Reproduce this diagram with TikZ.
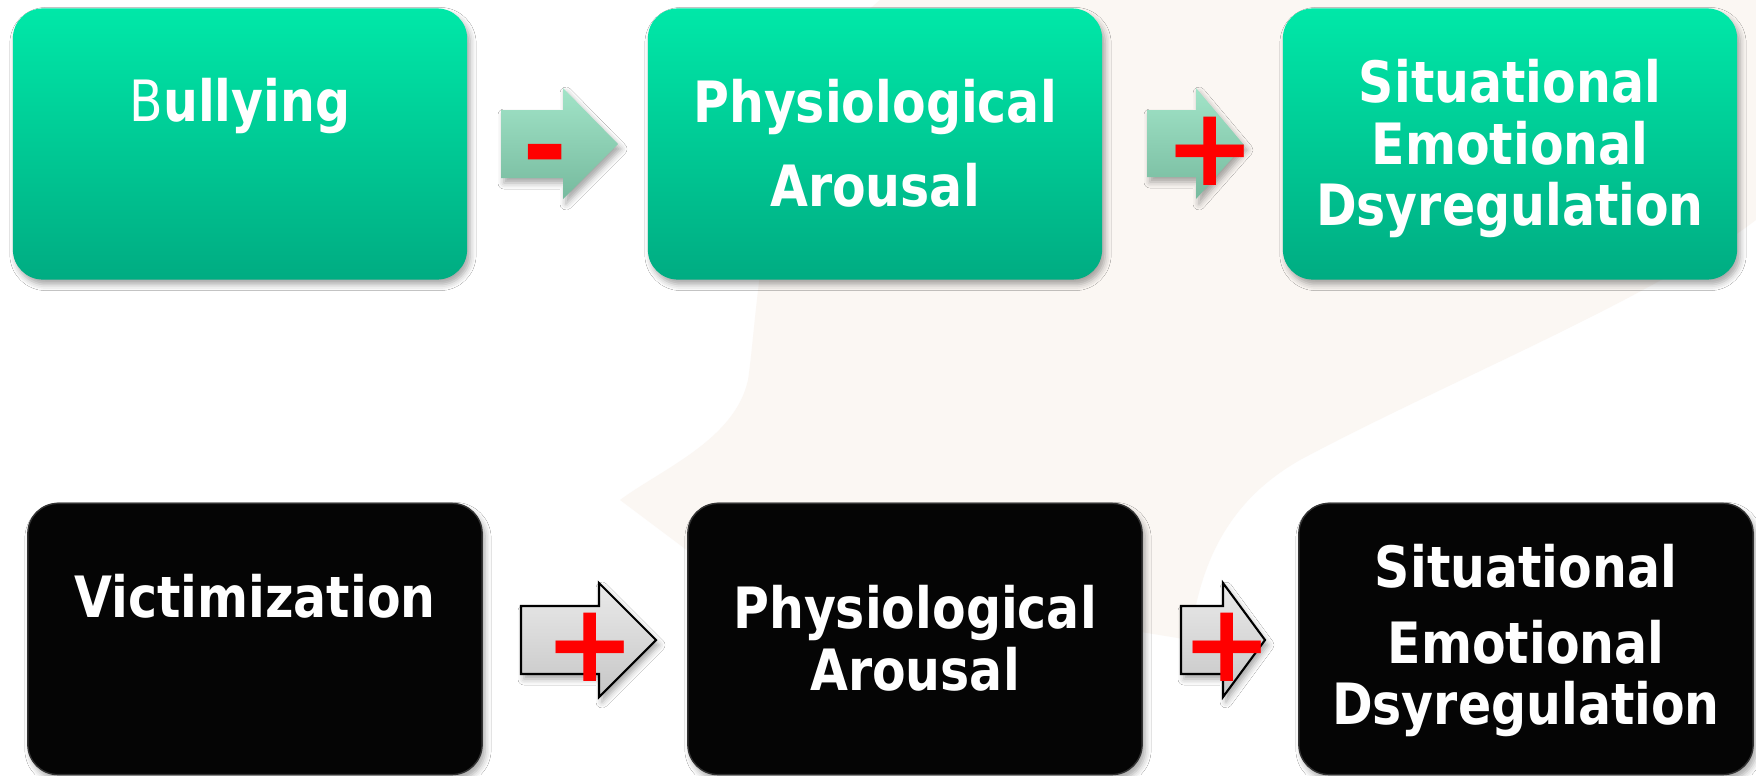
\documentclass[tikz,border=0pt]{standalone}
\usepackage{fontspec}
\usetikzlibrary{shadows.blur}
\newfontfamily\boxfont[FakeStretch=0.86]{DejaVu Sans}
\newfontfamily\signfont{DejaVu Sans}
\definecolor{greentop}{RGB}{0,232,168}
\definecolor{greenbot}{RGB}{0,172,130}
\definecolor{pale}{RGB}{251,247,243}
\definecolor{arrowtop}{RGB}{162,228,200}
\definecolor{arrowbot}{RGB}{118,186,158}
\definecolor{greytop}{RGB}{234,234,234}
\definecolor{greybot}{RGB}{198,198,198}
\definecolor{nearblack}{RGB}{5,5,5}
\definecolor{signred}{RGB}{255,0,0}
\tikzset{
  softshadow/.style = {blur shadow={shadow xshift=0.03cm, shadow yshift=-0.05cm, shadow blur radius=0.06cm, shadow opacity=35}},
  flowbox/.style = {rounded corners=0.3cm, minimum width=4.54cm, minimum height=2.71cm, inner sep=0pt, softshadow},
  greenbox/.style = {flowbox, top color=greentop, bottom color=greenbot},
  blackbox/.style = {flowbox, fill=nearblack, draw=black!80, line width=0.4pt},
  boxtext/.style = {text=white, font=\boxfont\bfseries\fontsize{16.2}{17.4}\selectfont, align=center, inner sep=0pt, anchor=north},
  greenarrow/.style = {top color=arrowtop, bottom color=arrowbot, softshadow},
  greyarrow/.style = {top color=greytop, bottom color=greybot, draw=black, line width=0.6pt, softshadow},
  sign/.style = {text=signred, font=\signfont\bfseries\fontsize{31}{31}\selectfont, inner sep=0pt}
}
\begin{document}
\begin{tikzpicture}[x=0.01cm, y=-0.01cm]
	\useasboundingbox (0,0) rectangle (1756,775);
	\fill[white] (0,0) rectangle (1756,775);
	% faint backdrop
	\fill[pale] (880,0) .. controls (760,100) and (760,300) .. (748,380) .. controls (735,440) and (660,470) .. (620,500) -- (700,560) -- (1190,640) .. controls (1200,560) and (1230,500) .. (1300,460) .. controls (1450,380) and (1650,300) .. (1756,220) -- (1756,0) -- cycle;
	% top row
	\node[greenbox] (bully) at (240,144) {};
	\node[greenbox] (arousal1) at (875,144) {};
	\node[greenbox] (dysreg1) at (1510,144) {};
	\node[boxtext] (bully-t) at (240,78) {{\mdseries B}ullying};
	\node[boxtext] (arousal1-t) at (875,79) {Physiological\\[0.22cm]Arousal};
	\node[boxtext] (dysreg1-t) at (1510,59) {Situational\\Emotional\\Dsyregulation};
	% bottom row
	\node[blackbox] (victim) at (255,639) {};
	\node[blackbox] (arousal2) at (915,639) {};
	\node[blackbox] (dysreg2) at (1526,639) {};
	\node[boxtext] (victim-t) at (255,574) {Victimization};
	\node[boxtext] (arousal2-t) at (915,585) {Physiological\\Arousal};
	\node[boxtext] (dysreg2-t) at (1526,544) {Situational\\[0.14cm]Emotional\\Dsyregulation};
	% block arrows
	\draw[greenarrow, draw=none] (501,110) -- ++(62,0) -- ++(0,-22) -- (618,144) -- (563,199) -- ++(0,-21) -- ++(-62,0) -- cycle;
	\draw[greenarrow, draw=none] (1147,110) -- ++(49,0) -- ++(0,-22) -- (1244,145) -- (1196,199) -- ++(0,-22) -- ++(-49,0) -- cycle;
	\draw[greyarrow] (521,606) -- ++(78,0) -- ++(0,-23) -- (656,640) -- (599,697) -- ++(0,-23) -- ++(-78,0) -- cycle;
	\draw[greyarrow] (1181,606) -- ++(42,0) -- ++(0,-23) -- (1265,640) -- (1223,697) -- ++(0,-23) -- ++(-42,0) -- cycle;
	% signs
	\node[sign] (minus1) at (545,164) {-};
	\node[sign] (plus1) at (1210,151) {+};
	\node[sign] (plus2) at (590,647) {+};
	\node[sign] (plus3) at (1227,647) {+};
\end{tikzpicture}
\end{document}
